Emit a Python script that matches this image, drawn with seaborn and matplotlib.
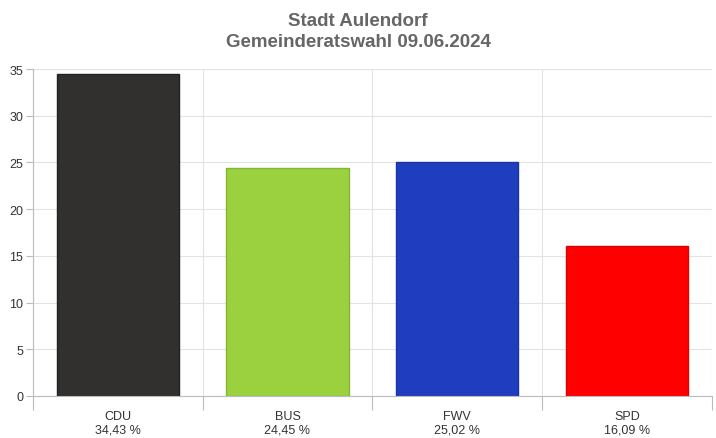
import matplotlib
matplotlib.use("Agg")
import matplotlib.pyplot as plt
import seaborn as sns
import pandas as pd
from matplotlib.ticker import FixedLocator

parties = ["CDU", "BUS", "FWV", "SPD"]
values = [34.43, 24.45, 25.02, 16.09]
colors = ["#32302e", "#9bd13f", "#1f3dbf", "#ff0000"]
edges = ["#222120", "#86b535", "#1a33a0", "#dd0000"]
yticks = [0, 5, 10, 15, 20, 25, 30, 35]

df = pd.DataFrame({"party": parties, "value": values})

sns.set_style("white")
plt.rcParams['font.family'] = ['Liberation Sans', 'DejaVu Sans']

fig = plt.figure(figsize=(7.16, 4.39), dpi=100)
ax = fig.add_axes([0.046, 0.0957, 0.948, 0.7448])
sns.barplot(data=df, x="party", y="value", hue="party", palette=colors,
            legend=False, width=0.72, ax=ax, saturation=1)
for p, ec in zip(ax.patches, edges):
    p.set_edgecolor(ec); p.set_linewidth(1)

ax.set_xlim(-0.5, 3.5)
ax.set_ylim(0, 35)
ax.set_yticks(yticks)
ax.set_xticks(range(4))
ax.set_xticklabels([f"{p}\n{v:.2f} %".replace(".", ",") for p, v in zip(parties, values)],
                   fontsize=9, color="#333333", linespacing=1.2)
ax.xaxis.set_minor_locator(FixedLocator([-0.5, 0.5, 1.5, 2.5, 3.5]))
ax.tick_params(axis="x", which="major", length=0, pad=10, bottom=True)
ax.tick_params(axis="x", which="minor", length=10, color="#bbbbbb", width=0.8, bottom=True)
ax.tick_params(axis="y", length=5, color="#bbbbbb", labelsize=9, labelcolor="#333333", pad=2, left=True)
ax.grid(True, axis="y", color="#e3e3e3", linewidth=0.8)
ax.grid(True, axis="x", which="minor", color="#e3e3e3", linewidth=0.8)
ax.set_axisbelow(True)
for s in ["top", "right"]:
    ax.spines[s].set_visible(False)
for s in ["left", "bottom"]:
    ax.spines[s].set_color("#bbbbbb"); ax.spines[s].set_linewidth(0.8)
ax.set_xlabel(""); ax.set_ylabel("")

fig.suptitle("Stadt Aulendorf\nGemeinderatswahl 09.06.2024", y=0.97,
             fontsize=13.5, fontweight="bold", color="#666666", linespacing=1.3)
fig.savefig("out.png", dpi=100)
